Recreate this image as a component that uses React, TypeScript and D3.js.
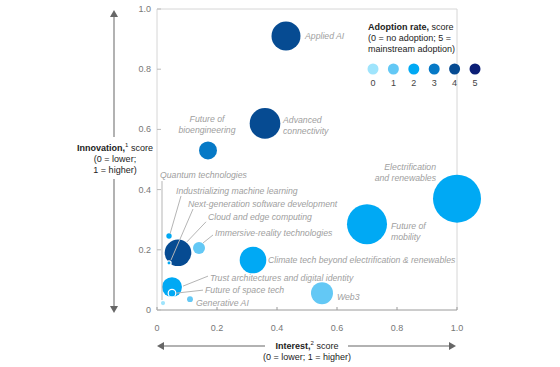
import React from 'react';
import * as d3 from 'd3';

const techs = [
  'Applied AI', 'Advanced connectivity', 'Future of bioengineering', 'Electrification and renewables',
  'Future of mobility', 'Climate tech beyond electrification & renewables', 'Web3',
  'Immersive-reality technologies', 'Cloud and edge computing', 'Next-generation software development',
  'Industrializing machine learning', 'Trust architectures and digital identity', 'Future of space tech',
  'Generative AI', 'Quantum technologies',
];
const interest = [0.43, 0.36, 0.17, 1.0, 0.70, 0.32, 0.55, 0.14, 0.07, 0.04, 0.04, 0.05, 0.05, 0.11, 0.02];
const innovation = [0.91, 0.62, 0.53, 0.37, 0.285, 0.166, 0.056, 0.206, 0.19, 0.156, 0.246, 0.076, 0.056, 0.036, 0.023];
const adoption = [4, 4, 3, 2, 2, 2, 1, 1, 4, 2, 2, 2, 2, 1, 0];
const investment = [146, 163, 56, 400, 278, 123, 84, 25, 123, 3, 5, 69, 10, 6, 3];

const adoptionLevels = [0, 1, 2, 3, 4, 5];
const adoptionColors = ['#9fe4fc', '#63c8f5', '#00a9f4', '#0679c6', '#064b92', '#0b1f76'];
const ticks = [0, 0.2, 0.4, 0.6, 0.8, 1.0];

// label placement, pixel offsets from bubble centre
const labelLayout: Record<string, { dx: number; dy: number; anchor: string; lines: string[]; leader?: number[]; ring?: boolean }> = {
  'Applied AI': { dx: 19, dy: 0, anchor: 'start', lines: ['Applied AI'] },
  'Advanced connectivity': { dx: 18, dy: -3, anchor: 'start', lines: ['Advanced', 'connectivity'] },
  'Future of bioengineering': { dx: -1, dy: -31, anchor: 'middle', lines: ['Future of', 'bioengineering'] },
  'Electrification and renewables': { dx: -21, dy: -32, anchor: 'end', lines: ['Electrification', 'and renewables'] },
  'Future of mobility': { dx: 24, dy: 2, anchor: 'start', lines: ['Future of', 'mobility'] },
  'Climate tech beyond electrification & renewables': { dx: 15, dy: 0, anchor: 'start', lines: ['Climate tech beyond electrification & renewables'] },
  'Web3': { dx: 15, dy: 4, anchor: 'start', lines: ['Web3'] },
  'Immersive-reality technologies': { dx: 16, dy: -15, anchor: 'start', lines: ['Immersive-reality technologies'], leader: [4, -5, 14, -13] },
  'Cloud and edge computing': { dx: 30, dy: -36, anchor: 'start', lines: ['Cloud and edge computing'], leader: [9, -11, 28, -31] },
  'Next-generation software development': { dx: 19, dy: -59, anchor: 'start', lines: ['Next-generation software development'], leader: [2, -3, 24, -54], ring: true },
  'Industrializing machine learning': { dx: 7, dy: -45, anchor: 'start', lines: ['Industrializing machine learning'], leader: [1, -2, 12, -40] },
  'Trust architectures and digital identity': { dx: 38, dy: -9, anchor: 'start', lines: ['Trust architectures and digital identity'], leader: [11, -1, 36, -11] },
  'Future of space tech': { dx: 33, dy: -3, anchor: 'start', lines: ['Future of space tech'], leader: [4, 0, 31, -3], ring: true },
  'Generative AI': { dx: 6, dy: 4, anchor: 'start', lines: ['Generative AI'] },
  'Quantum technologies': { dx: -3, dy: -128, anchor: 'start', lines: ['Quantum technologies'], leader: [-1, -3, -1, -122] },
};

const W = 560;
const H = 367;
const font = "'Liberation Sans', Arial, sans-serif";
const grey = '#a0a0a0';
const fs = 9;
const lfs = 8.7;

export default function App() {
  const x = d3.scaleLinear().domain([0, 1]).range([157, 457]);
  const y = d3.scaleLinear().domain([0, 1]).range([310, 9]);
  const r = d3.scaleSqrt().domain([0, 400]).range([0, 24]);
  const color = d3.scaleOrdinal<number, string>().domain(adoptionLevels).range(adoptionColors);

  const order = d3.range(techs.length).sort((a, b) => investment[b] - investment[a]);

  return (
    <div style={{ position: 'absolute', left: 0, top: 0 }}>
      <svg width={W} height={H} style={{ display: 'block', fontFamily: font }}>
        <rect width={W} height={H} fill="#fff" />
        {/* frame */}
        <path d={`M${x(0)},${y(0)}V${y(1)}H${x(1)}V${y(0)}`} fill="none" stroke="#d6d6d6" strokeWidth={1} />
        <line x1={x(0)} x2={x(1)} y1={y(0)} y2={y(0)} stroke="#9a9a9a" />
        {ticks.map(t => (
          <g key={'t' + t}>
            <line x1={x(t)} x2={x(t)} y1={y(0)} y2={y(0) - 3} stroke="#9a9a9a" />
            <line x1={x(0)} x2={x(0) + 4} y1={y(t)} y2={y(t)} stroke="#bbb" />
            <text x={x(t)} y={328} textAnchor="middle" dominantBaseline="central" fontSize={fs} fill="#777">{t === 0 ? '0' : t.toFixed(1)}</text>
            <text x={151} y={y(t)} textAnchor="end" dominantBaseline="central" fontSize={fs} fill="#777">{t === 0 ? '0' : t.toFixed(1)}</text>
          </g>
        ))}

        {/* y axis arrow */}
        <line x1={114} x2={114} y1={16} y2={137} stroke="#999" strokeWidth={1.5} />
        <line x1={114} x2={114} y1={179} y2={306} stroke="#999" strokeWidth={1.5} />
        <path d="M114,10L110,17H118Z" fill="#666" />
        <path d="M114,313L110,306H118Z" fill="#666" />
        <text x={115} y={148} textAnchor="middle" dominantBaseline="central" fontSize={fs} fill="#222">
          <tspan fontWeight="bold">Innovation,</tspan>
          <tspan fontSize={6} dy={-3}>1</tspan>
          <tspan dy={3}> score</tspan>
        </text>
        <text x={115} y={159} textAnchor="middle" dominantBaseline="central" fontSize={fs} fill="#222">(0 = lower;</text>
        <text x={115} y={170} textAnchor="middle" dominantBaseline="central" fontSize={fs} fill="#222">1 = higher)</text>

        {/* x axis arrow */}
        <line x1={163} x2={265} y1={346} y2={346} stroke="#999" strokeWidth={1.5} />
        <line x1={348} x2={449} y1={346} y2={346} stroke="#999" strokeWidth={1.5} />
        <path d="M157,346L164,342V350Z" fill="#666" />
        <path d="M456,346L449,342V350Z" fill="#666" />
        <text x={307} y={346} textAnchor="middle" dominantBaseline="central" fontSize={fs} fill="#222">
          <tspan fontWeight="bold">Interest,</tspan>
          <tspan fontSize={6} dy={-3}>2</tspan>
          <tspan dy={3}> score</tspan>
        </text>
        <text x={307} y={357} textAnchor="middle" dominantBaseline="central" fontSize={fs} fill="#222">(0 = lower; 1 = higher)</text>

        {/* bubbles */}
        {order.map(i => {
          const lay = labelLayout[techs[i]];
          return (
            <circle key={'c' + i} cx={x(interest[i])} cy={y(innovation[i])} r={r(investment[i])}
              fill={color(adoption[i])} stroke={lay.ring ? '#fff' : 'none'} strokeWidth={lay.ring ? 1.2 : 0} />
          );
        })}

        {/* labels and leaders */}
        {techs.map((t, i) => {
          const lay = labelLayout[t];
          const cx = x(interest[i]);
          const cy = y(innovation[i]);
          return (
            <g key={'l' + i}>
              {lay.leader && (
                <line x1={cx + lay.leader[0]} y1={cy + lay.leader[1]} x2={cx + lay.leader[2]} y2={cy + lay.leader[3]}
                  stroke="#b5b5b5" strokeWidth={1} />
              )}
              {lay.lines.map((ln, k) => (
                <text key={k} x={cx + lay.dx} y={cy + lay.dy + k * 11} textAnchor={lay.anchor} dominantBaseline="central"
                  fontSize={lfs} fontStyle="italic" fill={grey}>{ln}</text>
              ))}
            </g>
          );
        })}

        {/* legend */}
        <text x={368} y={27} dominantBaseline="central" fontSize={fs} fill="#222">
          <tspan fontWeight="bold">Adoption rate,</tspan>
          <tspan> score</tspan>
        </text>
        <text x={368} y={38} dominantBaseline="central" fontSize={fs} fill="#222">(0 = no adoption; 5 =</text>
        <text x={368} y={49} dominantBaseline="central" fontSize={fs} fill="#222">mainstream adoption)</text>
        {adoptionLevels.map((a, k) => (
          <g key={'a' + a}>
            <circle cx={373 + k * 20.4} cy={69} r={5.5} fill={color(a)} />
            <text x={373 + k * 20.4} y={83} textAnchor="middle" dominantBaseline="central" fontSize={fs} fill="#444">{a}</text>
          </g>
        ))}
      </svg>
    </div>
  );
}
